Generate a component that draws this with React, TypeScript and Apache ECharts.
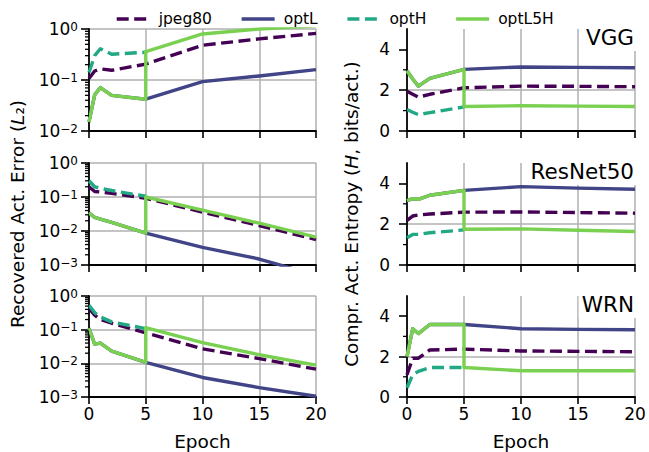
import React, { useEffect, useRef } from 'react';
import * as echarts from 'echarts';

const FONT = 'DejaVu Sans';

const seriesNames = ['jpeg80', 'optL', 'optH', 'optL5H'];
const seriesColors = ['#440154', '#414487', '#22a884', '#7ad151'];
const seriesDashed = [true, false, true, false];
const networks = ['VGG', 'ResNet50', 'WRN'];

const epochs = [0, 0.5, 1, 2, 5, 10, 15, 20];
const epochsOptH = [0, 0.5, 1, 2, 5];
const epochsOptL5H = [0, 0.5, 1, 2, 5, 5, 10, 15, 20];

const entropyTicks = [0, 2, 4];
const entropyMinorTicks = [1, 3];
const errMinorTicks2 = [0.02, 0.03, 0.04, 0.05, 0.06, 0.07, 0.08, 0.09, 0.2, 0.3, 0.4, 0.5, 0.6, 0.7, 0.8, 0.9];
const errMinorTicks3 = [0.002, 0.003, 0.004, 0.005, 0.006, 0.007, 0.008, 0.009, 0.02, 0.03, 0.04, 0.05, 0.06, 0.07, 0.08, 0.09, 0.2, 0.3, 0.4, 0.5, 0.6, 0.7, 0.8, 0.9];

// VGG
const vggErrJpeg80 = [0.107, 0.15, 0.165, 0.155, 0.205, 0.48, 0.64, 0.82];
const vggErrOptL = [0.015, 0.051, 0.071, 0.05, 0.042, 0.093, 0.12, 0.16];
const vggErrOptH = [0.14, 0.3, 0.41, 0.32, 0.35];
const vggErrOptL5H = [0.015, 0.051, 0.071, 0.05, 0.042, 0.36, 0.8, 1.0, 1.15];
const vggEntJpeg80 = [1.95, 1.8, 1.66, 1.8, 2.12, 2.2, 2.19, 2.17];
const vggEntOptL = [2.95, 2.55, 2.2, 2.58, 3.02, 3.14, 3.12, 3.1];
const vggEntOptH = [1.05, 0.92, 0.8, 0.9, 1.18];
const vggEntOptL5H = [2.95, 2.55, 2.2, 2.58, 3.02, 1.2, 1.24, 1.22, 1.2];

// ResNet50
const resErrJpeg80 = [0.2, 0.145, 0.14, 0.128, 0.092, 0.036, 0.0145, 0.0056];
const resErrOptL = [0.034, 0.025, 0.0224, 0.0178, 0.0087, 0.0033, 0.0015, 0.0005];
const resErrOptH = [0.3, 0.2, 0.18, 0.155, 0.105];
const resErrOptL5H = [0.034, 0.025, 0.0224, 0.0178, 0.0087, 0.1, 0.041, 0.017, 0.0066];
const resEntJpeg80 = [2.19, 2.4, 2.45, 2.5, 2.59, 2.6, 2.57, 2.54];
const resEntOptL = [3.16, 3.25, 3.22, 3.42, 3.66, 3.84, 3.77, 3.71];
const resEntOptH = [1.34, 1.5, 1.5, 1.58, 1.72];
const resEntOptL5H = [3.16, 3.25, 3.22, 3.42, 3.66, 1.75, 1.77, 1.7, 1.64];

// WRN
const wrnErrJpeg80 = [0.43, 0.27, 0.2, 0.155, 0.08, 0.027, 0.0138, 0.0067];
const wrnErrOptL = [0.11, 0.037, 0.04, 0.023, 0.0107, 0.0038, 0.0019, 0.00105];
const wrnErrOptH = [0.53, 0.32, 0.24, 0.17, 0.107];
const wrnErrOptL5H = [0.11, 0.037, 0.04, 0.023, 0.0107, 0.115, 0.041, 0.018, 0.0088];
const wrnEntJpeg80 = [1.1, 1.92, 1.92, 2.33, 2.37, 2.28, 2.26, 2.24];
const wrnEntOptL = [2.0, 3.38, 3.14, 3.59, 3.59, 3.38, 3.35, 3.33];
const wrnEntOptH = [0.46, 1.1, 1.27, 1.46, 1.46];
const wrnEntOptL5H = [2.0, 3.38, 3.14, 3.59, 3.59, 1.46, 1.3, 1.3, 1.3];

const errPanels = [
  { values: [vggErrJpeg80, vggErrOptL, vggErrOptH, vggErrOptL5H], min: 0.01, minor: errMinorTicks2 },
  { values: [resErrJpeg80, resErrOptL, resErrOptH, resErrOptL5H], min: 0.001, minor: errMinorTicks3 },
  { values: [wrnErrJpeg80, wrnErrOptL, wrnErrOptH, wrnErrOptL5H], min: 0.001, minor: errMinorTicks3 },
];
const entPanels = [
  { values: [vggEntJpeg80, vggEntOptL, vggEntOptH, vggEntOptL5H] },
  { values: [resEntJpeg80, resEntOptL, resEntOptH, resEntOptL5H] },
  { values: [wrnEntJpeg80, wrnEntOptL, wrnEntOptH, wrnEntOptL5H] },
];
const seriesEpochs = [epochs, epochs, epochsOptH, epochsOptL5H];

const colLeft = [89, 407];
const colWidth = [227, 228];
const rowTop = [29, 163, 296];
const rowHeight = [102, 102, 103];

const AXIS = '#000';
const GRIDC = '#b0b0b0';
const TICK_FS = 17;
const LW = 3.4;
const DASH = [12, 5.5];

export default function App() {
  const ref = useRef<HTMLDivElement>(null);
  useEffect(() => {
    if (!ref.current) return;
    const chart = echarts.init(ref.current, undefined, { renderer: 'svg' });

    const grids: any[] = [];
    const xAxes: any[] = [];
    const yAxes: any[] = [];
    const series: any[] = [];

    const minorSeries = (g: number, vals: number[]) => ({
      type: 'custom',
      xAxisIndex: g,
      yAxisIndex: g,
      silent: true,
      clip: false,
      z: 5,
      data: vals.map((v) => [0, v]),
      encode: { x: 0, y: 1 },
      renderItem: (_p: any, api: any) => {
        const p = api.coord([0, api.value(1)]);
        return {
          type: 'line',
          shape: { x1: p[0] - 4, y1: p[1], x2: p[0], y2: p[1] },
          style: { stroke: AXIS, lineWidth: 1.3 },
        };
      },
    });

    function makeLine(g: number, k: number, vals: number[]) {
      const ep = seriesEpochs[k];
      return {
        type: 'line',
        name: seriesNames[k],
        xAxisIndex: g,
        yAxisIndex: g,
        data: vals.map((v, i) => [ep[i], v]),
        symbol: 'none',
        showSymbol: false,
        clip: true,
        z: 2,
        itemStyle: { color: seriesColors[k] },
        lineStyle: {
          color: seriesColors[k],
          width: LW,
          type: seriesDashed[k] ? DASH : 'solid',
          cap: 'butt',
          join: 'round',
        },
      };
    }

    for (let col = 0; col < 2; col++) {
      for (let row = 0; row < 3; row++) {
        const g = col * 3 + row;
        grids.push({ left: colLeft[col], top: rowTop[row], width: colWidth[col], height: rowHeight[row] });
        xAxes.push({
          type: 'value',
          gridIndex: g,
          min: 0,
          max: 20,
          interval: 5,
          axisLine: { show: true, onZero: false, lineStyle: { color: AXIS, width: 1.8 } },
          axisTick: { show: true, length: 7, lineStyle: { color: AXIS, width: 1.6 } },
          axisLabel: { show: row === 2, margin: 8, fontSize: TICK_FS, color: '#000', fontFamily: FONT },
          splitLine: { show: true, showMinLine: false, lineStyle: { color: GRIDC, width: 1.5 } },
          name: row === 2 ? 'Epoch' : '',
          nameLocation: 'middle',
          nameGap: 35,
          nameTextStyle: { fontSize: 18.5, color: '#000', fontFamily: FONT },
        });
        if (col === 0) {
          const p = errPanels[row];
          yAxes.push({
            type: 'log',
            logBase: 10,
            gridIndex: g,
            min: p.min,
            max: 1,
            axisLine: { show: true, onZero: false, lineStyle: { color: AXIS, width: 1.8 } },
            axisTick: { show: true, length: 8, lineStyle: { color: AXIS, width: 1.6 } },
            axisLabel: {
              margin: 11,
              formatter: (v: number) => {
                const e = Math.round(Math.log10(v));
                return '{b|10}{s|' + (e < 0 ? '\u2212' + -e : String(e)) + '}';
              },
              rich: {
                b: { fontSize: TICK_FS, lineHeight: 17, padding: [3.6, 0, 0, 0], verticalAlign: 'bottom', fontFamily: FONT, color: '#000' },
                s: { fontSize: 12, lineHeight: 12.6, verticalAlign: 'top', fontFamily: FONT, color: '#000' },
              },
            },
            splitLine: { show: true, showMinLine: false, lineStyle: { color: GRIDC, width: 1.5 } },
          });
          series.push(minorSeries(g, p.minor));
          p.values.forEach((vals, k) => series.push(makeLine(g, k, vals)));
        } else {
          const p = entPanels[row];
          yAxes.push({
            type: 'value',
            gridIndex: g,
            min: 0,
            max: 5,
            interval: 2,
            axisLine: { show: true, onZero: false, lineStyle: { color: AXIS, width: 1.8 } },
            axisTick: { show: true, length: 8, customValues: entropyTicks, lineStyle: { color: AXIS, width: 1.6 } },
            axisLabel: { margin: 17, customValues: entropyTicks, fontSize: TICK_FS, color: '#000', fontFamily: FONT },
            splitLine: { show: true, showMinLine: false, showMaxLine: false, lineStyle: { color: GRIDC, width: 1.5 } },
          });
          series.push(minorSeries(g, entropyMinorTicks));
          p.values.forEach((vals, k) => series.push(makeLine(g, k, vals)));
        }
      }
    }

    const titles = networks.map((n, row) => ({
      text: n,
      right: 12,
      top: rowTop[row] - 5,
      backgroundColor: '#fff',
      padding: [2, 3, 3, 3],
      textStyle: { fontSize: 21.5, fontWeight: 'normal', color: '#000', fontFamily: FONT },
    }));

    chart.setOption({
      animation: false,
      backgroundColor: '#fff',
      textStyle: { fontFamily: FONT },
      title: titles,
      legend: {
        data: seriesNames,
        left: 110,
        top: 6,
        itemWidth: 33,
        itemHeight: 14,
        itemGap: 28,
        itemStyle: { opacity: 0 },
        lineStyle: { width: LW },
        textStyle: { fontSize: 15.5, color: '#000', fontFamily: FONT, padding: [0, 0, 0, 4] },
      },
      grid: grids,
      xAxis: xAxes,
      yAxis: yAxes,
      series,
      graphic: [
        {
          type: 'text',
          x: 17,
          y: 214,
          rotation: Math.PI / 2,
          style: {
            text: '{n|Recovered Act. Error (}{i|L}{n|\u2082)}',
            rich: {
              n: { fontSize: 18.5, fontFamily: FONT, fill: '#000' },
              i: { fontSize: 18.5, fontFamily: FONT, fontStyle: 'italic', fill: '#000' },
            },
            align: 'center',
            verticalAlign: 'middle',
          },
        },
        {
          type: 'text',
          x: 351,
          y: 214,
          rotation: Math.PI / 2,
          style: {
            text: '{n|Compr. Act. Entropy (}{i|H}{n|, bits/act.)}',
            rich: {
              n: { fontSize: 18.5, fontFamily: FONT, fill: '#000' },
              i: { fontSize: 18.5, fontFamily: FONT, fontStyle: 'italic', fill: '#000' },
            },
            align: 'center',
            verticalAlign: 'middle',
          },
        },
      ],
    });
    return () => chart.dispose();
  }, []);
  return <div ref={ref} style={{ position: 'fixed', left: 0, top: 0, width: 649, height: 452 }} />;
}
